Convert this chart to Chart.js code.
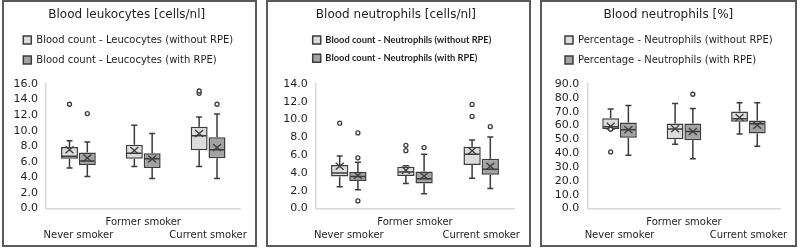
<!DOCTYPE html>
<html>
<head>
<meta charset="utf-8">
<script src="https://cdn.jsdelivr.net/npm/chart.js@4.4.1/dist/chart.umd.min.js"></script>
<style>
  html, body { margin: 0; padding: 0; background: #fff; }
  body { width: 800px; height: 248px; position: relative; overflow: hidden; }
  .panel { position: absolute; top: 0; height: 243px; border: 2px solid #5a5a5a; background: #fff; }
  .panel canvas { display: block; }
</style>
</head>
<body>
<div class="panel" style="left:2px;width:251px"><canvas id="leuChart" width="251" height="243"></canvas></div>
<div class="panel" style="left:266px;width:261px"><canvas id="neuChart" width="261" height="243"></canvas></div>
<div class="panel" style="left:540px;width:253px"><canvas id="pctChart" width="253" height="243"></canvas></div>

<script>
// boxplots: 3 panels, 2 series each (without / with RPE)

const categories = ["Never smoker", "Former smoker", "Current smoker"];
// excel staggers the category labels on two rows
const xTickLabels = [["", "Never smoker"], ["Former smoker"], ["", "Current smoker"]];

// each box = [min, q1, median, q3, max]
const leuWithoutBox = [[5.2, 6.4, 6.7, 7.9, 8.7], [5.4, 6.4, 7.1, 8.2, 10.7], [5.4, 7.5, 9.35, 10.5, 11.75]];
const leuWithoutMean = [7.55, 7.45, 9.65];
const leuWithoutOut = [[13.4], [], [14.8, 15.1]];
const leuWithBox = [[4.1, 5.6, 6.1, 7.2, 8.55], [3.85, 5.2, 6.4, 7.1, 9.65], [3.85, 6.45, 7.55, 9.15, 12.15]];
const leuWithMean = [6.5, 6.35, 7.85];
const leuWithOut = [[12.2], [], [13.4]];

const neuWithoutBox = [[2.45, 3.6, 4.0, 4.9, 5.9], [2.8, 3.65, 4.1, 4.7, 4.8], [3.4, 4.9, 6.1, 6.95, 7.7]];
const neuWithoutMean = [4.75, 4.3, 6.5];
const neuWithoutOut = [[9.6], [6.5, 7.1], [10.35, 11.7]];
const neuWithBox = [[2.1, 3.1, 3.6, 4.1, 5.2], [1.65, 2.8, 3.35, 4.15, 6.1], [2.25, 3.8, 4.4, 5.6, 8.05]];
const neuWithMean = [3.7, 3.65, 4.75];
const neuWithOut = [[0.85, 5.7, 8.5], [6.85], [9.2]];

const pctWithoutBox = [[57.5, 57.5, 59.1, 65.2, 72], [46.4, 50, 57.5, 61.5, 75.9], [53.9, 62.7, 64.9, 70.1, 76.4]];
const pctWithoutMean = [59.5, 57.7, 65.8];
const pctWithoutOut = [[57.3, 40.9], [], []];
const pctWithBox = [[38.5, 51.2, 57, 62.2, 74.4], [35.9, 49.3, 55.7, 61.5, 72.3], [45, 54.3, 61.3, 63.7, 76.4]];
const pctWithMean = [57, 55.7, 60.1];
const pctWithOut = [[], [82.6], []];

const LIGHT = "#dcdcdc";
const DARK = "#a3a3a3";
const EDGE = "#3c3c3c";
const TEXT = "#1e1e1e";
const AXIS = "#d9d9d9";

Chart.defaults.font.family = "'DejaVu Sans', Verdana, sans-serif";
Chart.defaults.color = TEXT;

// whiskers, median, mean cross and outliers, drawn on top of the floating bars
const boxExtras = {
  id: "boxExtras",
  afterDatasetsDraw(chart) {
    const ctx = chart.ctx;
    const y = chart.scales.y;
    chart.data.datasets.forEach((ds, i) => {
      const meta = chart.getDatasetMeta(i);
      meta.data.forEach((bar, j) => {
        const [lo, q1, med, q3, hi] = ds.stats[j];
        const x = bar.x;
        const half = bar.width / 2;
        const cap = 3;
        ctx.save();
        ctx.strokeStyle = EDGE;
        ctx.lineWidth = 1.5;
        ctx.beginPath();
        if (hi > q3) {
          ctx.moveTo(x, y.getPixelForValue(q3));
          ctx.lineTo(x, y.getPixelForValue(hi));
          ctx.moveTo(x - cap, y.getPixelForValue(hi));
          ctx.lineTo(x + cap, y.getPixelForValue(hi));
        }
        if (lo < q1) {
          ctx.moveTo(x, y.getPixelForValue(q1));
          ctx.lineTo(x, y.getPixelForValue(lo));
          ctx.moveTo(x - cap, y.getPixelForValue(lo));
          ctx.lineTo(x + cap, y.getPixelForValue(lo));
        }
        const ym = y.getPixelForValue(med);
        ctx.moveTo(x - half + 1, ym);
        ctx.lineTo(x + half - 1, ym);
        ctx.stroke();

        // mean = X
        const yMean = y.getPixelForValue(ds.means[j]);
        ctx.lineWidth = 1.3;
        ctx.beginPath();
        ctx.moveTo(x - 4, yMean - 3.5);
        ctx.lineTo(x + 4, yMean + 3.5);
        ctx.moveTo(x - 4, yMean + 3.5);
        ctx.lineTo(x + 4, yMean - 3.5);
        ctx.stroke();

        ctx.lineWidth = 1.3;
        ds.outliers[j].forEach(v => {
          ctx.beginPath();
          ctx.arc(x, y.getPixelForValue(v), 2, 0, Math.PI * 2);
          ctx.fillStyle = "#fff";
          ctx.fill();
          ctx.stroke();
        });
        ctx.restore();
      });
    });
  }
};

// legend rows are left aligned in excel, move the legend box where it sits there
const legendPlace = {
  id: "legendPlace",
  afterLayout(chart, args, opts) {
    const lg = chart.legend;
    if (!lg) return;
    const pad = chart.options.plugins.legend.labels.padding;
    const fs = chart.options.plugins.legend.labels.font.size;
    const dx = (opts.boxX - pad) - lg.left;
    const dy = (opts.rowY - pad - Math.max(fs, 8) / 2) - lg.top;
    lg.left += dx; lg.right += dx;
    lg.top += dy; lg.bottom += dy;
  }
};

function boxDataset(label, stats, means, outliers, fill) {
  return {
    label: label,
    data: stats.map(s => [s[1], s[3]]),
    stats: stats,
    means: means,
    outliers: outliers,
    backgroundColor: fill,
    borderColor: EDGE,
    borderWidth: 1.5,
    borderSkipped: false,
    categoryPercentage: 0.55,
    barPercentage: 0.95
  };
}

function makeBoxChart(canvasId, o) {
  const canvas = document.getElementById(canvasId);
  const legendPad = o.legendPad || 10;
  const legendH = 2 * (o.legendFont.size + legendPad) + 10;
  const titleGap = 82 - 6 - 14.4 - legendH;

  return new Chart(canvas.getContext("2d"), {
    type: "bar",
    data: {
      labels: xTickLabels,
      datasets: [
        boxDataset(o.names[0], o.boxes[0], o.means[0], o.outliers[0], LIGHT),
        boxDataset(o.names[1], o.boxes[1], o.means[1], o.outliers[1], DARK)
      ]
    },
    options: {
      responsive: false,
      animation: false,
      layout: { padding: o.padding },
      plugins: {
        title: {
          display: true,
          text: o.title,
          color: TEXT,
          font: { size: 12, weight: "normal" },
          padding: { top: 6, bottom: titleGap }
        },
        legend: {
          align: "start",
          labels: { boxWidth: 8, boxHeight: 8, padding: legendPad, color: TEXT, font: o.legendFont }
        },
        legendPlace: { boxX: o.legendX, rowY: 38 },
        tooltip: { enabled: false }
      },
      scales: {
        x: {
          grid: { display: false, drawTicks: false },
          border: { color: AXIS, width: 1.5 },
          ticks: { font: { size: 10, lineHeight: 1.3 }, color: TEXT, padding: 7, maxRotation: 0, autoSkip: false }
        },
        y: {
          min: 0,
          max: o.yMax,
          grid: { display: false, drawTicks: false },
          border: { color: AXIS, width: 1.5 },
          ticks: {
            stepSize: o.yStep, autoSkip: false, font: { size: 11 }, color: TEXT, padding: 8,
            callback: v => v.toFixed(1)
          }
        }
      }
    },
    plugins: [boxExtras, legendPlace]
  });
}

makeBoxChart("leuChart", {
  title: "Blood leukocytes [cells/nl]",
  names: ["Blood count - Leucocytes (without RPE)", "Blood count - Leucocytes (with RPE)"],
  boxes: [leuWithoutBox, leuWithBox],
  means: [leuWithoutMean, leuWithMean],
  outliers: [leuWithoutOut, leuWithOut],
  yMax: 16, yStep: 2,
  legendFont: { size: 10 },
  legendX: 19.3,
  padding: { left: 1.5, right: 7, top: 0, bottom: -3.5 }
});

makeBoxChart("neuChart", {
  title: "Blood neutrophils [cells/nl]",
  names: ["Blood count - Neutrophils (without RPE)", "Blood count - Neutrophils (with RPE)"],
  boxes: [neuWithoutBox, neuWithBox],
  means: [neuWithoutMean, neuWithMean],
  outliers: [neuWithoutOut, neuWithOut],
  yMax: 14, yStep: 2,
  legendFont: { size: 9.3, family: "Lato, 'Open Sans', sans-serif", weight: "bold" },
  legendPad: 9,
  legendX: 44.7,
  padding: { left: 7.2, right: 12.3, top: 0, bottom: -3.5 }
});

makeBoxChart("pctChart", {
  title: "Blood neutrophils [%]",
  names: ["Percentage - Neutrophils (without RPE)", "Percentage - Neutrophils (with RPE)"],
  boxes: [pctWithoutBox, pctWithBox],
  means: [pctWithoutMean, pctWithMean],
  outliers: [pctWithoutOut, pctWithOut],
  yMax: 90, yStep: 10,
  legendFont: { size: 10 },
  legendX: 23,
  padding: { left: 4.8, right: 5, top: 0, bottom: -3.5 }
});
</script>
</body>
</html>
